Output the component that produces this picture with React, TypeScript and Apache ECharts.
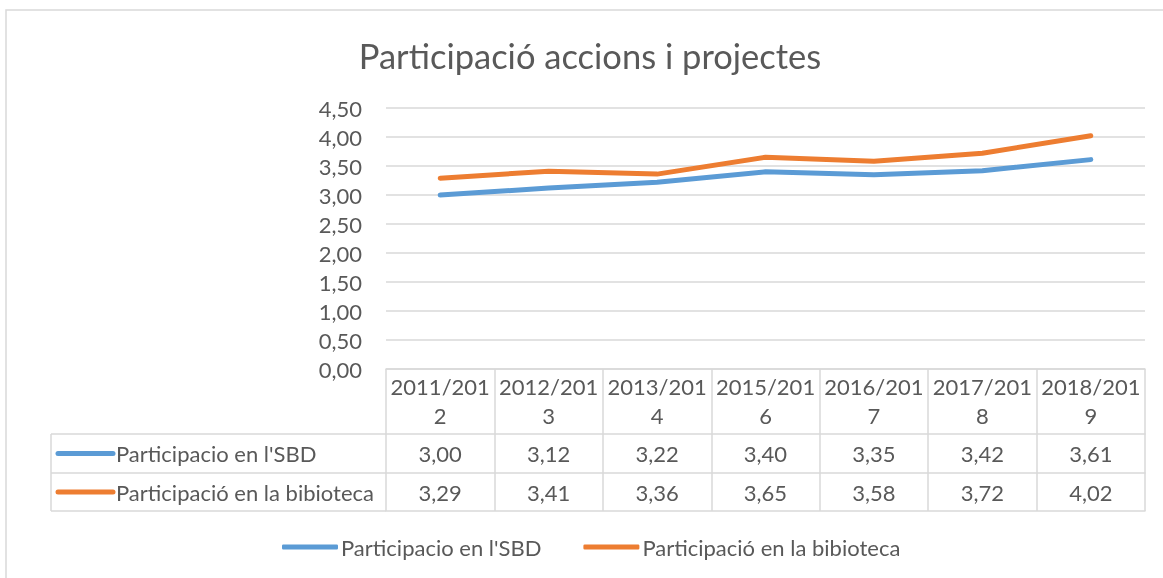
import React, { useEffect, useRef } from "react";
import * as echarts from "echarts";

const categories = ["2011/2012", "2012/2013", "2013/2014", "2015/2016", "2016/2017", "2017/2018", "2018/2019"];
const seriesNames = ["Participacio en l'SBD", "Participació en la bibioteca"];
const sbdValues = [3.0, 3.12, 3.22, 3.4, 3.35, 3.42, 3.61];
const bibValues = [3.29, 3.41, 3.36, 3.65, 3.58, 3.72, 4.02];
const colors = ["#5B9BD5", "#ED7D31"];
const titleText = "Participació accions i projectes";

const W = 1163;
const H = 578;
const FONT = "Lato";
const TXT = "#595959";
const LINE = "#d9d9d9";
const gridLeft = 386;
const gridRight = 1145;
const gridTop = 108;
const gridBottom = 369;
const row1 = 65;
const row2 = 104;
const row3 = 142;
const tableLeft = 51;

const fmt = (n: number) => n.toFixed(2).replace(".", ",");

export default function App() {
  const ref = useRef<HTMLDivElement>(null);
  useEffect(() => {
    if (!ref.current) return;
    const chart = echarts.init(ref.current, null, { renderer: "svg" });
    const rowYs = [gridBottom + row1, gridBottom + row2, gridBottom + row3];
    const rowCenters = [(rowYs[0] + rowYs[1]) / 2, (rowYs[1] + rowYs[2]) / 2];
    const graphics: any[] = [
      {
        type: "rect",
        z: -10,
        shape: { x: 6, y: 10, width: 1200, height: 600 },
        style: { fill: "#fff", stroke: LINE, lineWidth: 1.5 },
      },
      ...rowYs.map((y) => ({
        type: "line",
        shape: { x1: tableLeft, y1: y, x2: gridLeft, y2: y },
        style: { stroke: LINE, lineWidth: 1.5 },
      })),
      {
        type: "line",
        shape: { x1: tableLeft, y1: rowYs[0], x2: tableLeft, y2: rowYs[2] },
        style: { stroke: LINE, lineWidth: 1.5 },
      },
      ...seriesNames.flatMap((name, i) => [
        {
          type: "line",
          shape: { x1: tableLeft + 7, y1: rowCenters[i], x2: tableLeft + 62, y2: rowCenters[i] },
          style: { stroke: colors[i], lineWidth: 5, lineCap: "round" },
        },
        {
          type: "text",
          x: tableLeft + 65,
          y: rowCenters[i],
          style: {
            text: name,
            fill: TXT,
            font: `22px ${FONT}`,
            verticalAlign: "middle",
            align: "left",
          },
        },
      ]),
    ];
    const baseX = {
      type: "category",
      data: categories,
      position: "bottom",
      boundaryGap: true,
      axisLine: { show: true, lineStyle: { color: LINE, width: 1.5 } },
      axisTick: { show: false },
      splitLine: { show: false },
    };
    chart.setOption({
      animation: false,
      backgroundColor: "transparent",
      title: {
        text: titleText,
        left: 585,
        textAlign: "center",
        top: 33,
        textStyle: { fontFamily: FONT, fontSize: 34.5, fontWeight: "normal", color: TXT },
      },
      grid: { left: gridLeft, right: W - gridRight, top: gridTop, bottom: H - gridBottom, containLabel: false },
      legend: {
        data: seriesNames,
        left: 282,
        top: 536,
        padding: 0,
        icon: "roundRect",
        itemWidth: 56,
        itemHeight: 5,
        itemGap: 42,
        textStyle: { fontFamily: FONT, fontSize: 22, color: TXT, padding: [0, 0, 0, -2] },
      },
      xAxis: [
        {
          ...baseX,
          axisTick: { show: true, length: row3, lineStyle: { color: LINE, width: 1.5 } },
          axisLabel: {
            interval: 0,
            margin: 3,
            lineHeight: 29,
            fontFamily: FONT,
            fontSize: 22,
            color: TXT,
            formatter: (v: string) => v.slice(0, 8) + "\n" + v.slice(8),
          },
        },
        {
          ...baseX,
          offset: row1,
          axisLabel: {
            interval: 0,
            margin: 5,
            lineHeight: 29,
            fontFamily: FONT,
            fontSize: 22,
            color: TXT,
            formatter: (_v: string, i: number) => fmt(sbdValues[i]),
          },
        },
        {
          ...baseX,
          offset: row2,
          axisLabel: {
            interval: 0,
            margin: 5,
            lineHeight: 29,
            fontFamily: FONT,
            fontSize: 22,
            color: TXT,
            formatter: (_v: string, i: number) => fmt(bibValues[i]),
          },
        },
        {
          ...baseX,
          offset: row3,
          axisLabel: { show: false },
        },
      ],
      yAxis: {
        type: "value",
        min: 0,
        max: 4.5,
        interval: 0.5,
        axisLine: { show: false },
        axisTick: { show: false },
        splitLine: { lineStyle: { color: LINE, width: 1.5 } },
        axisLabel: {
          margin: 24,
          fontFamily: FONT,
          fontSize: 22,
          color: TXT,
          formatter: (v: number) => fmt(v),
        },
      },
      series: [
        {
          name: seriesNames[0],
          type: "line",
          xAxisIndex: 0,
          data: sbdValues,
          showSymbol: false,
          symbol: "none",
          color: colors[0],
          lineStyle: { width: 5, color: colors[0], cap: "round", join: "round" },
        },
        {
          name: seriesNames[1],
          type: "line",
          xAxisIndex: 0,
          data: bibValues,
          showSymbol: false,
          symbol: "none",
          color: colors[1],
          lineStyle: { width: 5, color: colors[1], cap: "round", join: "round" },
        },
      ],
      graphic: graphics,
    });
    return () => chart.dispose();
  }, []);
  return <div ref={ref} style={{ position: "fixed", left: 0, top: 0, width: W, height: H }} />;
}
